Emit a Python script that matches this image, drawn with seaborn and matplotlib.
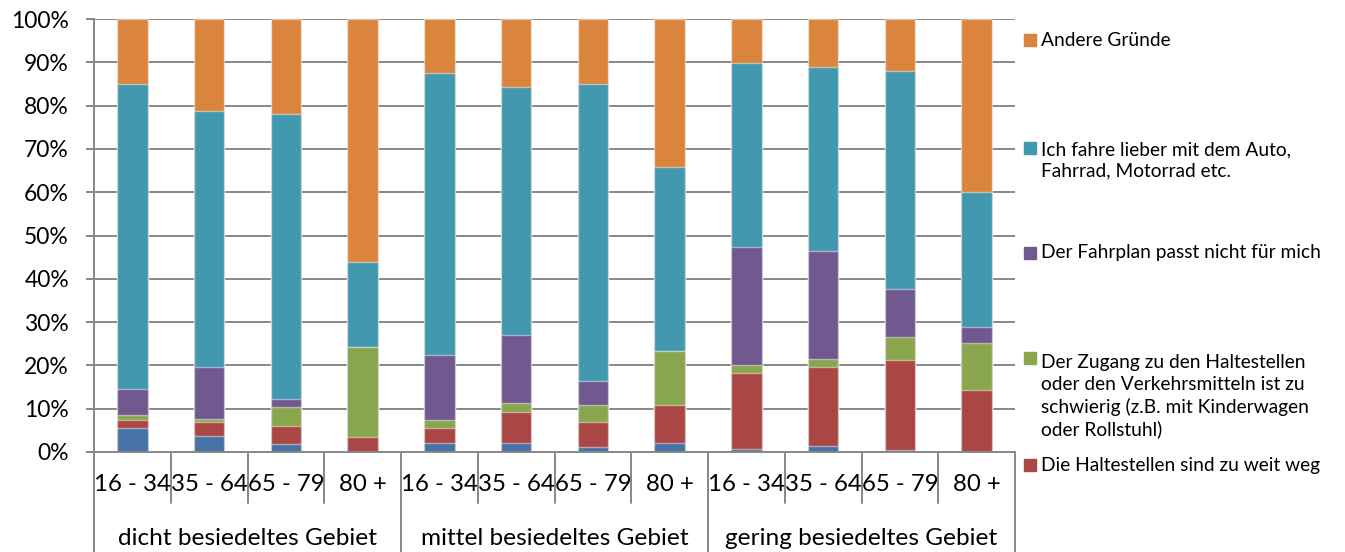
import pandas as pd
import matplotlib.pyplot as plt
import seaborn as sns
from matplotlib.patches import Rectangle

# Anteile (%) je Balken, von unten nach oben gestapelt
regions = ["dicht besiedeltes Gebiet", "mittel besiedeltes Gebiet", "gering besiedeltes Gebiet"]
ages = ["16 - 34", "35 - 64", "65 - 79", "80 +"]

blue = [5.6, 3.6, 1.9, 0.0, 2.1, 2.1, 1.1, 2.1, 0.7, 1.4, 0.5, 0.0]
haltestellen = [1.9, 3.4, 4.1, 3.5, 3.5, 7.2, 5.9, 8.7, 17.6, 18.3, 20.8, 14.4]
zugang = [1.0, 0.6, 4.4, 20.7, 1.7, 2.0, 3.8, 12.5, 1.8, 1.7, 5.3, 10.8]
fahrplan = [6.1, 12.1, 1.8, 0.0, 15.1, 15.8, 5.5, 0.0, 27.2, 25.0, 11.0, 3.7]
auto = [70.5, 59.0, 65.8, 19.6, 65.2, 57.2, 68.8, 42.5, 42.6, 42.6, 50.3, 31.1]
andere = [14.9, 21.3, 22.0, 56.2, 12.4, 15.7, 14.9, 34.2, 10.1, 11.0, 12.1, 40.0]

series = [blue, haltestellen, zugang, fahrplan, auto, andere]
colors = ["#4572A7", "#AA4643", "#89A54E", "#71588F", "#4198AF", "#DB843D"]

legend_labels = [
    "Andere Gründe",
    "Ich fahre lieber mit dem Auto,\nFahrrad, Motorrad etc.",
    "Der Fahrplan passt nicht für mich",
    "Der Zugang zu den Haltestellen\noder den Verkehrsmitteln ist zu\nschwierig (z.B. mit Kinderwagen\noder Rollstuhl)",
    "Die Haltestellen sind zu weit weg",
]
legend_colors = ["#DB843D", "#4198AF", "#71588F", "#89A54E", "#AA4643"]

keys = [f"{r}|{a}" for r in regions for a in ages]
df = pd.DataFrame({"key": keys})
cum = [0.0] * len(keys)
for i, s in enumerate(series):
    cum = [c + v for c, v in zip(cum, s)]
    df[f"c{i}"] = cum

sns.set_style("white")
plt.rcParams["font.family"] = ["Lato", "DejaVu Sans"]
plt.rcParams["text.color"] = "black"
plt.rcParams["ytick.labelcolor"] = "black"

fig = plt.figure(figsize=(13.45, 5.52), dpi=100)
ax = fig.add_axes([94 / 1345, 100 / 552, (1015 - 94) / 1345, 433 / 552])

for i in reversed(range(len(series))):
    sns.barplot(data=df, x="key", y=f"c{i}", order=keys, color=colors[i],
                width=0.4, saturation=1, edgecolor=(1, 1, 1, 0.45), linewidth=1, ax=ax)

grey = "#878787"
ax.set_ylim(0, 100)
ax.set_xlim(-0.5, 11.5)
ax.set_yticks(range(0, 101, 10))
ax.set_yticklabels([f"{v}%" for v in range(0, 101, 10)], fontsize=16.5)
ax.yaxis.grid(True, color=grey, lw=1.4)
ax.set_axisbelow(True)
ax.set_xticks([])
ax.set_xlabel("")
ax.set_ylabel("")
ax.tick_params(axis="y", length=6, width=1.4, color=grey, left=True, pad=12)
for side in ["top", "right"]:
    ax.spines[side].set_visible(False)
for side in ["left", "bottom"]:
    ax.spines[side].set_color(grey)
    ax.spines[side].set_linewidth(1.4)

# Kategorienachse mit zwei Ebenen
n = len(keys)
for k in range(n + 1):
    bottom = -0.231 if k % 4 == 0 else -0.118
    ax.plot([k / n, k / n], [0, bottom], transform=ax.transAxes, color=grey,
            lw=1.4, clip_on=False)
for k, key in enumerate(keys):
    ax.text((k + 0.5) / n, -0.076, key.split("|")[1], transform=ax.transAxes,
            ha="center", va="center", fontsize=17.3)
for g, r in enumerate(regions):
    ax.text((g * 4 + 2) / n, -0.199, r, transform=ax.transAxes,
            ha="center", va="center", fontsize=17.6)

# Legende
legend_y = [40, 147.7, 252.7, 358, 465]
pitch = 25.5
for lab, col, yc in zip(legend_labels, legend_colors, legend_y):
    fig.patches.append(Rectangle((1024 / 1345, 1 - (yc + 6) / 552), 12 / 1345, 12 / 552,
                                 transform=fig.transFigure, color=col))
    nlines = lab.count("\n") + 1
    ymid = yc + (nlines - 1) * pitch / 2
    fig.text(1041 / 1345, 1 - ymid / 552, lab, ha="left", va="center",
             fontsize=13.8, linespacing=1.33)

fig.savefig("out.png", dpi=100)
